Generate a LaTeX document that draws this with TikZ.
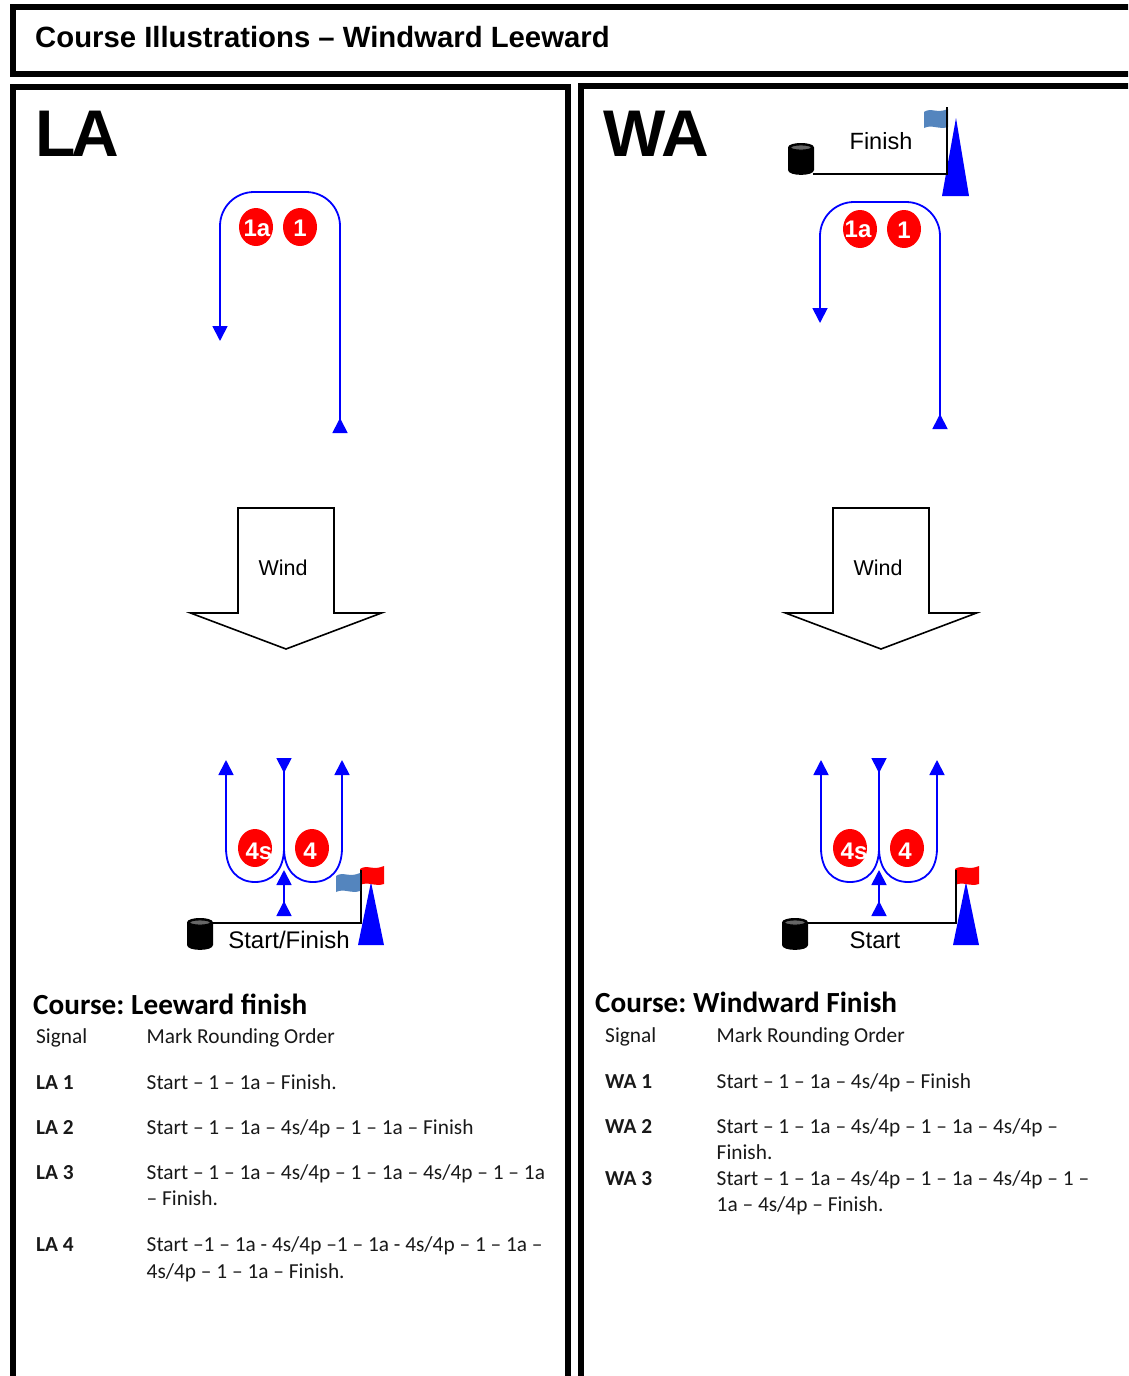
\documentclass[tikz,border=0pt]{standalone}
\usepackage{fontspec}
\setmainfont{Carlito}
\newfontfamily\arialfont{Liberation Sans}
\usetikzlibrary{arrows.meta,shapes.geometric}
\newcommand{\fs}[1]{\fontsize{#1}{#1}\selectfont}
\definecolor{flagblue}{RGB}{84,133,190}

\tikzset{
  frameline/.style={draw=black, line width=6pt},
  head/.style={anchor=base west, inner sep=0pt, font=\arialfont\bfseries\fs{#1}},
  courseline/.style={draw=blue, line width=1.8pt},
  tip/.tip={Triangle[width=15pt,length=15pt]},
  backtip/.tip={Triangle[reversed,width=15pt,length=15pt]},
  markball/.style={ellipse, fill=red, minimum width=34pt, minimum height=38pt, inner sep=0pt},
  marktext/.style={text=white, inner sep=0pt, font=\arialfont\bfseries\fs{24}},
  linetext/.style={inner sep=0pt, font=\arialfont\fs{#1}},
  rowtext/.style={anchor=base west, inner sep=0pt, text=black!90, font=\fs{21.35}},
  rowsig/.style={anchor=base west, inner sep=0pt, text=black!90, font=\bfseries\fs{21.35}},
  coursetitle/.style={anchor=base west, inner sep=0pt, font=\bfseries\fs{29.2}},
  flagpic/.pic={
    \fill[#1] (0,3) .. controls (7,-2) and (13,5) .. (24,0) -- (24,18)
       .. controls (15,21) and (8,15) .. (0,19) -- cycle;
  },
  pinpic/.pic={
    \fill[black] (-13,4.5) -- (-13,27) .. controls (-13,33.5) and (13,33.5) .. (13,27)
       -- (13,4.5) .. controls (13,-1.5) and (-13,-1.5) .. cycle;
    \draw[black, line width=1pt, fill=black!60] (0,4.5) ellipse [x radius=10.5, y radius=2.6];
  },
}

\begin{document}
\begin{tikzpicture}[x=1pt,y=-1pt]
\clip (0,0) rectangle (1128,1376);
\fill[white] (0,0) rectangle (1128,1376);

%frames
\draw[frameline] (12.5,6.5) rectangle (1150,74);
\draw[frameline] (12.5,87) rectangle (568,1400);
\draw[frameline] (581,85.5) rectangle (1150,1400);

\node[head=29.3] (title) at (35,47) {Course Illustrations – Windward Leeward};
\node[head=66] (latitle) at (35,156) {L\kern-4ptA};
\node[head=66] (watitle) at (603,156) {WA};

%upper course LA
\coordinate (laup) at (340,433);
\coordinate (latr) at (340,192);
\coordinate (latl) at (220,192);
\coordinate (ladown) at (220,341);
\draw[courseline, rounded corners=34pt, backtip-tip] (laup) -- (latr) -- (latl) -- (ladown);
\node[markball] (la1a) at (256,227) {};
\node[markball] (la1) at (300,227) {};
\node[marktext] (la1atext) at (257,228) {1a};
\node[marktext] (la1text) at (300,228) {1};

%upper course WA
\coordinate (waup) at (940,429);
\coordinate (watr) at (940,202);
\coordinate (watl) at (820,202);
\coordinate (wadown) at (820,323);
\draw[courseline, rounded corners=34pt, backtip-tip] (waup) -- (watr) -- (watl) -- (wadown);
\node[markball] (wa1a) at (860,229) {};
\node[markball] (wa1) at (904,229) {};
\node[marktext] (wa1atext) at (858,229) {1a};
\node[marktext] (wa1text) at (904,230) {1};

%finish line WA
\fill[blue] (942,196) -- (956,118) -- (969,196) -- cycle;
\pic at (924,109) {flagpic=flagblue};
\pic at (801,143) {pinpic};
\coordinate (wafinpin) at (813,174);
\coordinate (wapole) at (947,174);
\coordinate (wapoletop) at (947,107);
\draw[line width=2pt] (wafinpin) -- (wapole) -- (wapoletop);
\node[linetext=23.5] (wafinish) at (881,141) {Finish};

%wind, leeward gate and start line
\foreach \dx/\pn/\startname/\startx in {0/la/{Start/Finish}/289, 595/wa/Start/280}{
  \begin{scope}[xshift=\dx pt]
    \draw[line width=1.6pt, fill=white]
      (238,508) -- (334,508) -- (334,613) -- (381.5,613) -- (286,649) -- (190.5,613) -- (238,613) -- cycle;
    \node[linetext=21.5] (\pn wind) at (283,568) {Wind};

    \coordinate (\pn l) at (226,760);
    \coordinate (\pn r) at (342,760);
    \coordinate (\pn m) at (284,758);
    \coordinate (\pn ml) at (284,848);
    \coordinate (\pn low) at (284,916);
    \coordinate (\pn high) at (284,870);
    \draw[courseline, -tip] (\pn ml) .. controls (284,870) and (272,882) .. (255,882)
       .. controls (238,882) and (226,870) .. (226,848) -- (\pn l);
    \draw[courseline, -tip] (\pn ml) .. controls (284,870) and (296,882) .. (313,882)
       .. controls (330,882) and (342,870) .. (342,848) -- (\pn r);
    \draw[courseline, -backtip] (\pn ml) -- (\pn m);
    \draw[courseline, backtip-tip] (\pn low) -- (\pn high);

    \node[markball] (\pn 4s) at (255,848) {};
    \node[markball] (\pn 4) at (312,848) {};
    \node[marktext] (\pn 4stext) at (259,851) {4s};
    \node[marktext] (\pn 4text) at (310,851) {4};

    \fill[blue] (358,945) -- (371,882) -- (384,945) -- cycle;
    \pic at (360,866) {flagpic=red};
    \pic at (200,918) {pinpic};
    \coordinate (\pn pin) at (212,923);
    \coordinate (\pn pole) at (361,923);
    \coordinate (\pn poletop) at (361,870);
    \draw[line width=2pt] (\pn pin) -- (\pn pole) -- (\pn poletop);
    \node[linetext=24] (\pn start) at (\startx,940) {\startname};
  \end{scope}
}
\pic at (336,873) {flagpic=flagblue};

%signal tables
\node[coursetitle] (lacourse) at (33,1014) {Course:\kern-2pt{} Leeward finish};
\node[coursetitle] (wacourse) at (595,1012) {Course:\kern-2pt{} Windward Finish};

\foreach \y/\sig/\order [count=\i] in {
  1043/{\mdseries Signal}/{Mark Rounding Order},
  1089/LA 1/{Start -- 1 -- 1a -- Finish.},
  1134/LA 2/{Start -- 1 -- 1a -- 4s/4p -- 1 -- 1a -- Finish},
  1179/LA 3/{Start -- 1 -- 1a -- 4s/4p -- 1 -- 1a -- 4s/4p -- 1 -- 1a},
  1205//{-- Finish.},
  1251/LA 4/{Start --1 -- 1a - 4s/4p --1 -- 1a - 4s/4p -- 1 -- 1a --},
  1278//{4s/4p -- 1 -- 1a -- Finish.}}{
  \node[rowsig] (lasig\i) at (36,\y) {\sig};
  \node[rowtext] (laorder\i) at (146.5,\y) {\order};
}

\foreach \y/\sig/\order [count=\i] in {
  1042/{\mdseries Signal}/{Mark Rounding Order},
  1088/WA 1/{Start -- 1 -- 1a -- 4s/4p -- Finish},
  1133/WA 2/{Start -- 1 -- 1a -- 4s/4p -- 1 -- 1a -- 4s/4p --},
  1159//{Finish.},
  1185/WA 3/{Start -- 1 -- 1a -- 4s/4p -- 1 -- 1a -- 4s/4p -- 1 --},
  1211//{1a -- 4s/4p -- Finish.}}{
  \node[rowsig] (wasig\i) at (605,\y) {\sig};
  \node[rowtext] (waorder\i) at (716.5,\y) {\order};
}
\end{tikzpicture}
\end{document}
